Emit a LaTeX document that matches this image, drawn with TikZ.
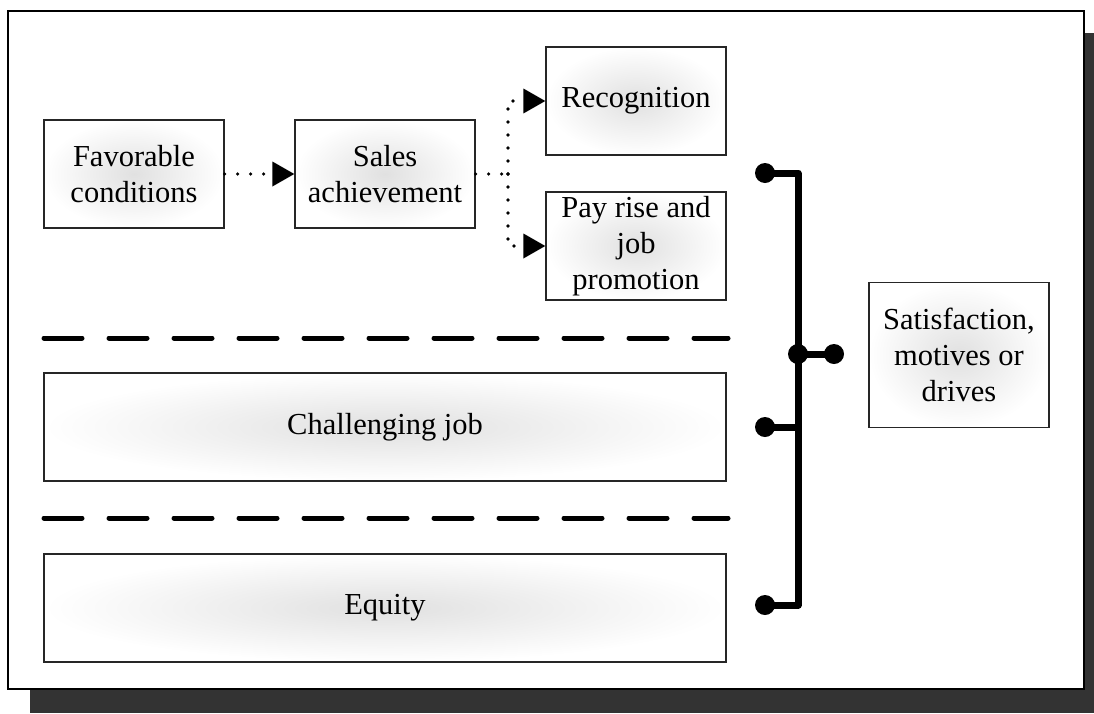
\documentclass[tikz,border=0pt]{standalone}
\usepackage{fontspec}
\setmainfont{Liberation Serif}
\usepackage{tikz}
\usetikzlibrary{arrows.meta, positioning, calc}

\begin{document}
\begin{tikzpicture}[x=1pt, y=-1pt,
    box/.style={rectangle, draw=black!85, line width=1.2pt, shading=radial,
        inner color=black!12, outer color=white, minimum width=180pt,
        minimum height=108pt, align=center, inner sep=0pt,
        font=\fontsize{30.5pt}{36pt}\selectfont},
    flowline/.style={line width=3.6pt, line cap=round, dash pattern=on 0pt off 13pt},
    flow/.style={flowline, -{Triangle[length=22pt, width=24pt, sep=0pt]}},
    sep line/.style={line width=5pt, line cap=round, dash pattern=on 38pt off 27pt},
    bracket/.style={line width=7pt, line join=round},
    dot/.style={circle, fill=black, minimum size=20pt, inner sep=0pt}]
    \useasboundingbox (0,0) rectangle (1094,713);
    \fill[black!80] (30,33) rectangle (1094,713);
    \draw[fill=white, line width=1.3pt] (8,11) rectangle (1084,689);

    \node[box] (fav) at (134,174) {Favorable\\conditions};
    \node[box] (sales) at (385,174) {Sales\\achievement};
    \node[box] (recog) at (636,101) {Recognition};
    \node[box] (pay) at (636,246) {Pay rise and\\job\\promotion};
    \node[box, minimum width=682pt] (chal) at (385,427) {Challenging job};
    \node[box, minimum width=682pt] (equity) at (385,608) {Equity};
    \node[box, minimum height=145pt] (satis) at (959,355) {Satisfaction,\\motives or\\drives};

    \coordinate (j) at (508,174);
    \draw[flow] (fav) -- (sales);
    \draw[flowline] (sales) -- (j);
    \draw[flow] (j) |- (recog);
    \draw[flow] (j) |- (pay);

    \draw[sep line] (44,338) -- (728,338);
    \draw[sep line] (44,518) -- (728,518);

    \node[dot] (d1) at (765,173) {};
    \node[dot] (d2) at (765,427) {};
    \node[dot] (d3) at (765,605) {};
    \node[dot] (dm) at (798,354) {};
    \node[dot] (dr) at (834,354) {};
    \draw[bracket] (d1.center) -- (d1.center -| dm.center) -- (d3.center -| dm.center) -- (d3.center);
    \draw[bracket] (d2.center) -- (d2.center -| dm.center);
    \draw[bracket] (dm.center) -- (dr.center);
\end{tikzpicture}
\end{document}
